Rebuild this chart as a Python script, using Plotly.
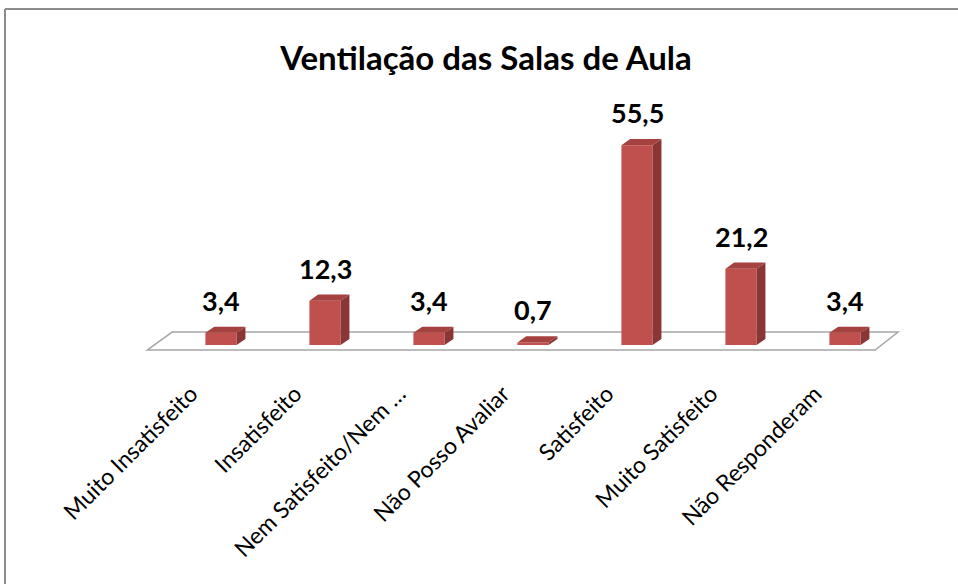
import plotly.graph_objects as go

categories = ["Muito Insatisfeito", "Insatisfeito", "Nem Satisfeito/Nem …",
              "Não Posso Avaliar", "Satisfeito", "Muito Satisfeito", "Não Responderam"]
values = [3.4, 12.3, 3.4, 0.7, 55.5, 21.2, 3.4]
value_labels = ["3,4", "12,3", "3,4", "0,7", "55,5", "21,2", "3,4"]
title_text = "Ventilação das Salas de Aula"

FRONT = "#C0504D"
SIDE = "#8A3634"
TOP = "#A5413E"

n = len(categories)
xs = list(range(n))
bw = 0.30      # bar width (category units)
dx = 0.085     # depth offset x (category units)
dy = 1.7       # depth offset y (value units)

fig = go.Figure()

# floor (drawn as a shape, below everything)
fl_lo, fl_hi = -1.4, 3.6
fig.add_shape(type="path",
              path=(f"M {-0.71} {fl_lo} L {-0.47} {fl_hi} L {n - 0.49} {fl_hi} "
                    f"L {n - 0.71} {fl_lo} Z"),
              xref="x", yref="y", fillcolor="white",
              line=dict(color="#A6A6A6", width=1.5), layer="below")

# front faces
fig.add_trace(go.Bar(x=xs, y=values, width=bw, marker=dict(color=FRONT, line=dict(width=0)),
                     hoverinfo="skip", showlegend=False))

# side and top faces
sx, sy = [], []
tx, ty = [], []
for x, v in zip(xs, values):
    r = x + bw / 2
    l = x - bw / 2
    sx += [r, r + dx, r + dx, r, r, None]
    sy += [0, dy, v + dy, v, 0, None]
    tx += [l, l + dx, r + dx, r, l, None]
    ty += [v, v + dy, v + dy, v, v, None]
fig.add_trace(go.Scatter(x=sx, y=sy, fill="toself", fillcolor=SIDE, mode="lines",
                         line=dict(width=0, color=SIDE), hoverinfo="skip", showlegend=False))
fig.add_trace(go.Scatter(x=tx, y=ty, fill="toself", fillcolor=TOP, mode="lines",
                         line=dict(width=0, color=TOP), hoverinfo="skip", showlegend=False))

# value labels
for x, v, t in zip(xs, values, value_labels):
    fig.add_annotation(x=x, y=v, text=f"<b>{t}</b>", showarrow=False,
                       xanchor="center", yanchor="bottom", yshift=14,
                       font=dict(family="Lato", size=27, color="black"))

# outer border (only top and left edges are inside the picture)
L, R, T, B = 120, 930, 100, 370
W, H = R - L, B - T
bx0, bx1 = (5 - L) / W, (990 - L) / W
by0, by1 = -(620 - B) / H, 1 + (T - 9) / H
fig.add_shape(type="line", xref="paper", yref="paper", x0=bx0, x1=bx1, y0=by1, y1=by1,
              line=dict(color="#8C8C8C", width=2), layer="below")
fig.add_shape(type="line", xref="paper", yref="paper", x0=bx0, x1=bx0, y0=by0, y1=by1,
              line=dict(color="#8C8C8C", width=2), layer="below")

fig.update_layout(
    width=958, height=584,
    margin=dict(l=L, r=958 - R, t=T, b=584 - B, autoexpand=False),
    paper_bgcolor="white", plot_bgcolor="white",
    title=dict(text=f"<b>{title_text}</b>", x=486 / 958, xanchor="center",
               xref="container", yref="container", y=1 - 58 / 584, yanchor="middle",
               font=dict(family="Lato", size=33, color="black")),
    showlegend=False,
    xaxis=dict(range=[-(221 - L) / 104, (R - 221) / 104], tickvals=xs, ticktext=categories,
               tickangle=-45, showgrid=False, zeroline=False, showline=False, ticks="",
               tickfont=dict(family="Lato", size=23, color="black"),
               ticklabelshift=-30, ticklabelstandoff=5, fixedrange=True, automargin=False),
    yaxis=dict(range=[-(B - 345) / 3.6, (345 - T) / 3.6], showgrid=False, zeroline=False,
               showline=False, showticklabels=False, ticks="", fixedrange=True,
               automargin=False),
)

fig.write_html("out.html", config={"displayModeBar": False},
               post_script="document.body.style.margin='0';document.body.style.overflow='hidden';")
